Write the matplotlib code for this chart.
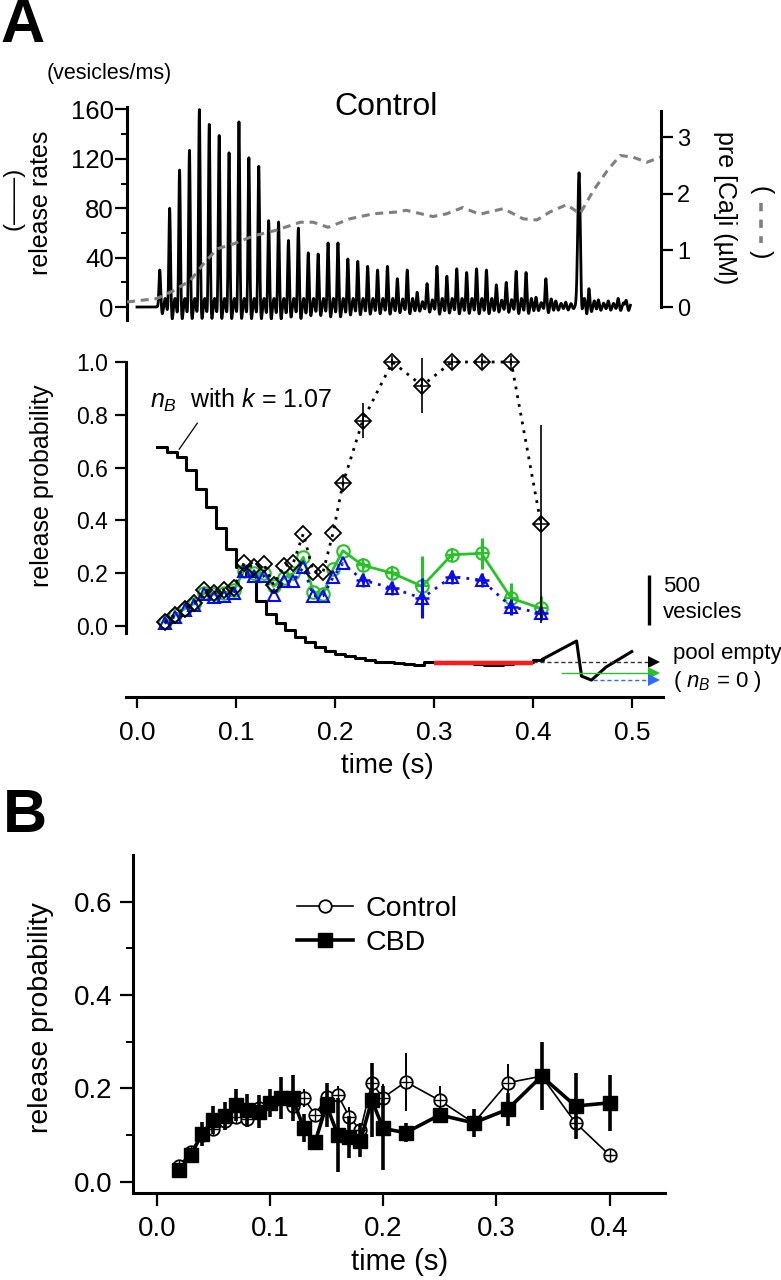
import numpy as np
import matplotlib
matplotlib.use('Agg')
import matplotlib.pyplot as plt
from matplotlib.lines import Line2D

plt.rcParams['font.family'] = ['Liberation Sans', 'DejaVu Sans']
plt.rcParams['mathtext.fontset'] = 'custom'
plt.rcParams['mathtext.rm'] = 'Liberation Sans'
plt.rcParams['mathtext.it'] = 'Liberation Sans:italic'

# ---------------- DATA ----------------
# Panel A top: release-rate spikes (vesicles/ms)
pulse_t = [0.023, 0.033, 0.043, 0.053, 0.063, 0.073, 0.083, 0.093, 0.103, 0.113,
           0.123, 0.133, 0.143, 0.153, 0.163, 0.173, 0.183, 0.193, 0.203, 0.213,
           0.223, 0.233, 0.243, 0.253, 0.263, 0.273, 0.283, 0.293, 0.303, 0.313,
           0.323, 0.333, 0.343, 0.353, 0.363, 0.373, 0.383, 0.393, 0.403, 0.413,
           0.423, 0.433, 0.4465, 0.4565, 0.466, 0.476, 0.486, 0.494]
pulse_h = [30, 80, 111, 127, 160, 148, 139, 125, 150, 121,
           114, 70, 69, 54, 64, 44, 43, 52, 52, 39,
           37, 33, 30, 33, 23, 30, 12, 19, 33, 25,
           31, 28, 31, 30, 18, 20, 29, 28, 8, 23,
           5, 4, 109, 15, 6, 5, 7, 7]

# Panel A top: presynaptic [Ca]i (uM)
ca_t = [-0.010, 0.020, 0.037, 0.054, 0.067, 0.081, 0.098, 0.118, 0.141, 0.165,
        0.178, 0.193, 0.215, 0.239, 0.262, 0.272, 0.299, 0.313, 0.329, 0.346,
        0.370, 0.390, 0.404, 0.417, 0.434, 0.4475, 0.461, 0.475, 0.488, 0.501,
        0.515, 0.529]
ca_v = [0.09, 0.15, 0.29, 0.47, 0.76, 1.03, 1.12, 1.26, 1.36, 1.50,
        1.50, 1.41, 1.56, 1.65, 1.68, 1.71, 1.60, 1.65, 1.76, 1.64,
        1.74, 1.56, 1.54, 1.68, 1.81, 1.65, 2.06, 2.41, 2.68, 2.65,
        2.56, 2.65]

# Panel A bottom: release probability
tA = [0.028, 0.038, 0.048, 0.058, 0.068, 0.078, 0.088, 0.098, 0.108, 0.118,
      0.128, 0.138, 0.148, 0.158, 0.168, 0.178, 0.188, 0.198, 0.208,
      0.228, 0.258, 0.288, 0.318, 0.348, 0.378, 0.408]
p_black = [0.015, 0.042, 0.066, 0.086, 0.138, 0.125, 0.138, 0.145, 0.238, 0.222,
           0.235, 0.155, 0.227, 0.240, 0.350, 0.205, 0.205, 0.352, 0.540,
           0.778, 1.000, 0.910, 1.000, 1.000, 1.000, 0.386]
e_black = [0, 0, 0, 0, 0, 0, 0, 0, 0, 0, 0, 0, 0, 0, 0, 0, 0, 0, 0.01,
           0.066, 0.01, 0.104, 0.01, 0.01, 0.01, 0.375]
p_green = [0.015, 0.040, 0.065, 0.085, 0.125, 0.120, 0.125, 0.135, 0.210, 0.200,
           0.200, 0.150, 0.180, 0.200, 0.260, 0.130, 0.120, 0.215, 0.285,
           0.230, 0.200, 0.150, 0.270, 0.275, 0.105, 0.067]
e_green = [0, 0, 0, 0, 0, 0, 0, 0, 0, 0, 0, 0, 0, 0, 0, 0, 0, 0, 0,
           0.012, 0.012, 0.115, 0.012, 0.060, 0.058, 0.045]
p_blue = [0.010, 0.035, 0.060, 0.080, 0.120, 0.110, 0.115, 0.125, 0.210, 0.190,
          0.190, 0.117, 0.170, 0.170, 0.222, 0.114, 0.114, 0.184, 0.237,
          0.174, 0.143, 0.105, 0.187, 0.174, 0.073, 0.048]
e_blue = [0, 0, 0, 0, 0, 0, 0, 0, 0, 0, 0, 0, 0, 0, 0, 0, 0, 0, 0,
          0.012, 0.012, 0.075, 0.012, 0.012, 0.030, 0.015]

# n_B trace (scaled to the probability axis)
nb_step_t = [0.02, 0.03, 0.04, 0.05, 0.06, 0.07, 0.08, 0.09, 0.10, 0.11,
             0.12, 0.13, 0.14, 0.15, 0.16, 0.17, 0.18, 0.19, 0.20, 0.21,
             0.22, 0.23, 0.24, 0.25, 0.26, 0.27, 0.28, 0.29, 0.30, 0.31,
             0.32, 0.33, 0.34, 0.35, 0.36, 0.37, 0.38, 0.39, 0.40, 0.41]
nb_step_v = [0.677, 0.660, 0.640, 0.590, 0.520, 0.450, 0.370, 0.290, 0.225, 0.190,
             0.095, 0.045, 0.010, -0.015, -0.040, -0.062, -0.080, -0.095, -0.105, -0.115,
             -0.123, -0.130, -0.135, -0.138, -0.140, -0.145, -0.147, -0.138, -0.135, -0.138,
             -0.140, -0.142, -0.145, -0.148, -0.148, -0.145, -0.140, -0.135, -0.130, -0.125]
nb_tail_t = [0.41, 0.42, 0.43, 0.444, 0.449, 0.459, 0.474, 0.4997]
nb_tail_v = [-0.125, -0.105, -0.085, -0.057, -0.190, -0.205, -0.155, -0.097]
red_t = [0.30, 0.40]
red_v = [-0.142, -0.142]
# "pool empty" asymptote arrows: (start time, level)
arrow_start = [0.400, 0.429, 0.461]
arrow_level = [-0.137, -0.179, -0.205]

# Panel B
tB = [0.02, 0.03, 0.04, 0.05, 0.06, 0.07, 0.08, 0.09, 0.10, 0.11,
      0.12, 0.13, 0.14, 0.15, 0.16, 0.17, 0.18, 0.19, 0.20,
      0.22, 0.25, 0.28, 0.31, 0.34, 0.37, 0.40]
ctrl = [0.034, 0.064, 0.100, 0.112, 0.130, 0.139, 0.135, 0.157, 0.168, 0.180,
        0.162, 0.179, 0.143, 0.182, 0.186, 0.139, 0.110, 0.211, 0.180,
        0.214, 0.174, 0.126, 0.212, 0.226, 0.126, 0.057]
ctrl_err = [0.005, 0.008, 0.010, 0.015, 0.015, 0.015, 0.015, 0.015, 0.015, 0.020,
            0.020, 0.020, 0.010, 0.020, 0.020, 0.020, 0.015, 0.030, 0.030,
            0.062, 0.032, 0.020, 0.040, 0.040, 0.012, 0.008]
cbd = [0.024, 0.057, 0.102, 0.132, 0.140, 0.164, 0.153, 0.150, 0.168, 0.179,
       0.179, 0.114, 0.086, 0.164, 0.100, 0.095, 0.088, 0.175, 0.114,
       0.105, 0.143, 0.126, 0.155, 0.226, 0.162, 0.169]
cbd_err = [0.012, 0.015, 0.025, 0.030, 0.030, 0.035, 0.035, 0.035, 0.030, 0.045,
           0.050, 0.030, 0.015, 0.047, 0.080, 0.045, 0.035, 0.080, 0.090,
           0.020, 0.015, 0.030, 0.035, 0.073, 0.070, 0.060]

# ---------------- FIGURE ----------------
W, H = 781, 1280
fig = plt.figure(figsize=(W / 100, H / 100), dpi=100)


def box(l, t, r, b):
    return [l / W, 1 - b / H, (r - l) / W, (b - t) / H]


def ft(x, y, s, **kw):
    kw.setdefault('ha', 'center')
    kw.setdefault('va', 'center')
    return fig.text(x / W, 1 - y / H, s, **kw)


GREEN = '#25c425'
BLUE = '#0a0af0'
GRAY = '#7f7f7f'
SPW = 2.2

# ---------- Panel A top ----------
axT = fig.add_axes(box(127, 107, 661, 320))
tt = np.arange(0.0, 0.4985, 0.0002)
rate = np.zeros_like(tt)
for tp, hp in zip(pulse_t, pulse_h):
    sig = 0.0013 if hp > 100 and tp > 0.44 else 0.0008
    rate += hp * np.exp(-0.5 * ((tt - tp) / sig) ** 2)
    rate -= min(10.0, 2 + 0.12 * hp) * np.exp(-0.5 * ((tt - tp - 0.0026) / 0.0007) ** 2)
    rate += min(7.0, 2 + 0.2 * hp) * np.exp(-0.5 * ((tt - tp - 0.0054) / 0.0008) ** 2)
    rate -= min(6.0, 1 + 0.08 * hp) * np.exp(-0.5 * ((tt - tp - 0.0079) / 0.0007) ** 2)
axT.plot(tt, rate, color='black', lw=2.0, zorder=3)
axT.set_xlim(-0.0101, 0.5293)
axT.set_ylim(-10.5, 162)
axT.spines['top'].set_visible(False)
axT.spines['right'].set_visible(False)
axT.spines['bottom'].set_visible(False)
axT.spines['left'].set_linewidth(SPW)
axT.set_xticks([])
axT.set_yticks([0, 40, 80, 120, 160])
axT.set_yticks([20, 60, 100, 140], minor=True)
axT.tick_params(axis='y', which='major', length=8.5, width=1.6, labelsize=18.5, pad=1)
axT.tick_params(axis='y', which='minor', length=4.5, width=1.4)

axR = axT.twinx()
axR.set_ylim(-10.5 / 45.8, 162 / 45.8)
axR.plot(ca_t, ca_v, color=GRAY, lw=2.2, ls=(0, (2.6, 1.9)), zorder=2)
axR.spines['top'].set_visible(False)
axR.spines['left'].set_visible(False)
axR.spines['bottom'].set_visible(False)
axR.spines['right'].set_linewidth(SPW)
axR.spines['right'].set_bounds(0, 3.46)
axR.set_yticks([0, 1, 2, 3])
axR.tick_params(axis='y', which='major', length=8.5, width=1.6, labelsize=17, pad=3)
axR.set_xlim(-0.0101, 0.5293)

ft(23, 27, 'A', fontsize=44, fontweight='bold')
ft(109, 73, '(vesicles/ms)', fontsize=15.5)
ft(386, 107, 'Control', fontsize=23)
ft(41, 203, 'release rates', fontsize=18, rotation=90)
ft(14, 198, '(\u2014\u2014)', fontsize=17, rotation=90)
ft(725, 208, 'pre [Ca]i (\u00b5M)', fontsize=18, rotation=270)
ft(761, 190, '(', fontsize=18, rotation=270)
ft(761, 254, ')', fontsize=18, rotation=270)
fig.add_artist(Line2D([761 / W, 761 / W], [1 - 203 / H, 1 - 243 / H], transform=fig.transFigure,
                      color=GRAY, lw=2.6, ls=(0, (2.3, 2.3))))

# ---------- Panel A bottom ----------
axM = fig.add_axes(box(126, 356, 663, 697))
axM.set_xlim(-0.0111, 0.5313)
axM.set_ylim(-0.269, 1.0227)

axM.plot(nb_step_t, nb_step_v, color='black', lw=2.2, drawstyle='steps-post', zorder=2)
axM.plot(nb_tail_t, nb_tail_v, color='black', lw=2.2, zorder=2)
axM.plot(red_t, red_v, color='#ff1a1a', lw=3.2, zorder=3, solid_capstyle='butt')

arrow_end = 0.522
arrow_col = ['#333333', GREEN, '#2a6cff']
arrow_ls = [(0, (3, 2)), '-', (0, (3, 2))]
for s0, lv, c, ls in zip(arrow_start, arrow_level, arrow_col, arrow_ls):
    axM.plot([s0, arrow_end], [lv, lv], color=c, lw=1.0, ls=ls, zorder=2, clip_on=False)
    axM.plot([arrow_end], [lv], marker='>', color=c if c != '#333333' else 'black',
             ms=9, mew=0, zorder=3, clip_on=False)

tA_a = np.array(tA)
# green
axM.errorbar(tA, p_green, yerr=e_green, fmt='none', ecolor=GREEN, elinewidth=2.2, capsize=0, zorder=3)
axM.plot(tA, p_green, color=GREEN, lw=2.0, marker='o', ms=9, mfc='none', mec=GREEN, mew=1.5,
         zorder=3, clip_on=False)
mg = np.array(e_green) > 0
axM.plot(tA_a[mg], np.array(p_green)[mg], '+', color=GREEN, ms=10, mew=1.5, zorder=3)
# blue
axM.errorbar(tA, p_blue, yerr=e_blue, fmt='none', ecolor=BLUE, elinewidth=2.2, capsize=0, zorder=4)
axM.plot(tA, p_blue, color=BLUE, lw=2.0, ls=(0, (1, 2.2)), marker='^', ms=9, mfc='none',
         mec=BLUE, mew=1.5, zorder=4, clip_on=False)
mb = np.array(e_blue) > 0
axM.plot(tA_a[mb], np.array(p_blue)[mb], '+', color=BLUE, ms=10, mew=1.8, zorder=4)
# black
axM.errorbar(tA, p_black, yerr=e_black, fmt='none', ecolor='black', elinewidth=1.2, capsize=0, zorder=5)
axM.plot(tA, p_black, color='black', lw=2.0, ls=(0, (1, 2.2)), marker='D', ms=8.3, mfc='none',
         mec='black', mew=1.3, zorder=5, clip_on=False)
mk = np.array(e_black) > 0
axM.plot(tA_a[mk], np.array(p_black)[mk], '+', color='black', ms=11, mew=1.1, zorder=5)

axM.spines['top'].set_visible(False)
axM.spines['right'].set_visible(False)
axM.spines['left'].set_linewidth(SPW)
axM.spines['bottom'].set_linewidth(SPW)
axM.spines['left'].set_bounds(-0.027, 1.0)
axM.set_yticks([0, 0.2, 0.4, 0.6, 0.8, 1.0])
axM.set_yticklabels(['0.0', '0.2', '0.4', '0.6', '0.8', '1.0'])
axM.set_xticks([0, 0.1, 0.2, 0.3, 0.4, 0.5])
axM.set_xticklabels(['0.0', '0.1', '0.2', '0.3', '0.4', '0.5'])
axM.tick_params(axis='y', length=8, width=1.6, labelsize=16.5, pad=5)
axM.tick_params(axis='x', length=8, width=1.6, labelsize=19, pad=9)

# scale bar
axM.plot([0.517, 0.517], [0.004, 0.193], color='black', lw=2.4, clip_on=False, solid_capstyle='butt')
ft(663, 587, '500', fontsize=16, ha='left')
ft(663, 613, 'vesicles', fontsize=16, ha='left')
ft(673, 654, 'pool empty', fontsize=16, ha='left')
ft(673, 681, r'( $n_B$ = 0 )', fontsize=16, ha='left')
ft(150, 400, r'$n_B$  with $k$ = 1.07', fontsize=18, ha='left')
axM.plot([0.0609, 0.0427], [0.768, 0.670], color='black', lw=0.9)

ft(42, 486, 'release probability', fontsize=18, rotation=90)
ft(387, 766, 'time (s)', fontsize=20)

# ---------- Panel B ----------
axB = fig.add_axes(box(133, 855, 665, 1193.3))
axB.set_xlim(-0.02094, 0.4490)
axB.set_ylim(-0.0249, 0.700)
axB.errorbar(tB, ctrl, yerr=ctrl_err, fmt='none', ecolor='black', elinewidth=1.4, capsize=0, zorder=3)
axB.plot(tB, ctrl, color='black', lw=1.2, marker='o', ms=9, mfc='white', mec='black', mew=1.3, zorder=3)
axB.plot(tB, ctrl, '+', color='black', ms=9, mew=1.0, zorder=3)
axB.errorbar(tB, cbd, yerr=cbd_err, fmt='none', ecolor='black', elinewidth=2.6, capsize=0, zorder=4)
axB.plot(tB, cbd, color='black', lw=2.6, marker='s', ms=10, mfc='black', mec='black', zorder=4)

axB.spines['top'].set_visible(False)
axB.spines['right'].set_visible(False)
axB.spines['left'].set_linewidth(SPW)
axB.spines['bottom'].set_linewidth(SPW)
axB.set_yticks([0, 0.2, 0.4, 0.6])
axB.set_yticklabels(['0.0', '0.2', '0.4', '0.6'])
axB.set_yticks([0.1, 0.3, 0.5], minor=True)
axB.set_xticks([0, 0.1, 0.2, 0.3, 0.4])
axB.set_xticklabels(['0.0', '0.1', '0.2', '0.3', '0.4'])
axB.tick_params(axis='both', which='major', length=9.5, width=1.6, labelsize=20)
axB.tick_params(axis='y', which='major', pad=5)
axB.tick_params(axis='x', which='major', pad=7)
axB.tick_params(axis='y', which='minor', length=5, width=1.4)

handles = [Line2D([], [], color='black', lw=1.2, marker='o', ms=9, mfc='white', mec='black', mew=1.3),
           Line2D([], [], color='black', lw=2.6, marker='s', ms=10, mfc='black', mec='black')]
axB.legend(handles, ['Control', 'CBD'], loc='upper left', bbox_to_anchor=(297 / W, 1 - 896 / H),
           bbox_transform=fig.transFigure, frameon=False, fontsize=20.5, handlelength=1.95,
           handletextpad=0.45, labelspacing=0.28, borderpad=0, borderaxespad=0)

ft(25, 817, 'B', fontsize=44, fontweight='bold')
ft(41, 1018, 'release probability', fontsize=20.5, rotation=90)
ft(400, 1262, 'time (s)', fontsize=21)

fig.savefig('out.png', dpi=100)
